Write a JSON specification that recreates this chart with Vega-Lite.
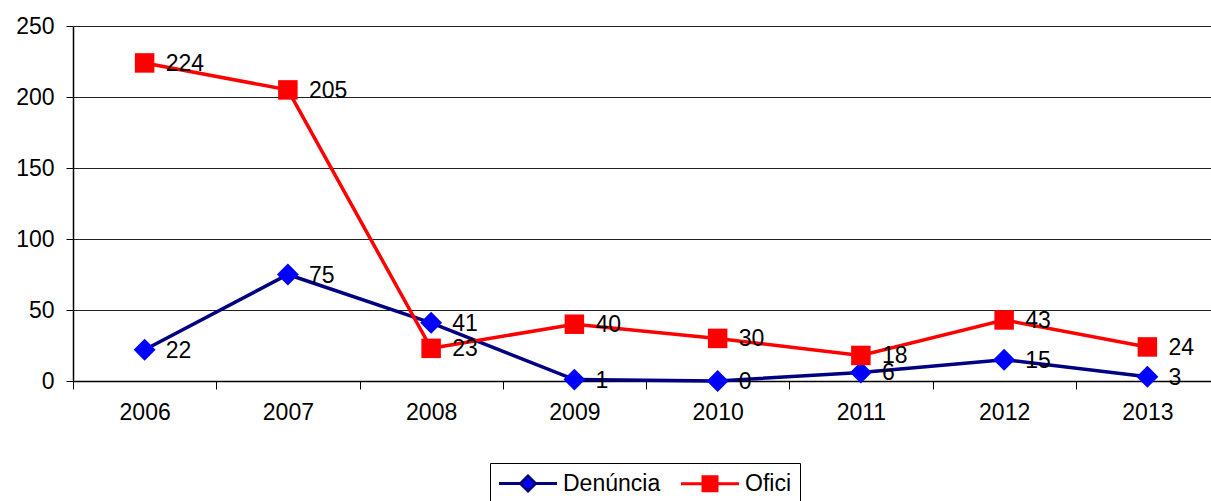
{
  "$schema": "https://vega.github.io/schema/vega-lite/v6.json",
  "width": 1146,
  "height": 355,
  "autosize": {"type": "none"},
  "padding": {"left": 73, "top": 26, "right": 0, "bottom": 120},
  "background": "white",
  "config": {
    "font": "Liberation Sans",
    "view": {"stroke": null},
    "axis": {"labelFont": "Liberation Sans", "labelFontSize": 23, "labelColor": "black", "domainColor": "black", "tickColor": "black"}
  },
  "data": {
    "values": [
      {"year": "2006", "series": "Denúncia", "value": 22},
      {"year": "2007", "series": "Denúncia", "value": 75},
      {"year": "2008", "series": "Denúncia", "value": 41},
      {"year": "2009", "series": "Denúncia", "value": 1},
      {"year": "2010", "series": "Denúncia", "value": 0},
      {"year": "2011", "series": "Denúncia", "value": 6},
      {"year": "2012", "series": "Denúncia", "value": 15},
      {"year": "2013", "series": "Denúncia", "value": 3},
      {"year": "2006", "series": "Ofici", "value": 224},
      {"year": "2007", "series": "Ofici", "value": 205},
      {"year": "2008", "series": "Ofici", "value": 23},
      {"year": "2009", "series": "Ofici", "value": 40},
      {"year": "2010", "series": "Ofici", "value": 30},
      {"year": "2011", "series": "Ofici", "value": 18},
      {"year": "2012", "series": "Ofici", "value": 43},
      {"year": "2013", "series": "Ofici", "value": 24}
    ]
  },
  "encoding": {
    "x": {
      "field": "year", "type": "nominal", "bandPosition": 0.5,
      "scale": {"type": "band", "paddingInner": 0, "paddingOuter": 0},
      "axis": {"title": null, "labelAngle": 0, "tickBand": "extent", "tickSize": 8, "labelPadding": 12, "domainWidth": 1.5, "grid": false}
    },
    "y": {
      "field": "value", "type": "quantitative",
      "scale": {"domain": [0, 250], "nice": false},
      "axis": {"title": null, "values": [0, 50, 100, 150, 200, 250], "tickSize": 7, "labelPadding": 12, "grid": true, "gridColor": "#222", "gridWidth": 1, "domainWidth": 1.5}
    }
  },
  "layer": [
    {
      "mark": {"type": "line", "strokeWidth": 3.5},
      "encoding": {
        "color": {
          "field": "series", "type": "nominal",
          "scale": {"domain": ["Denúncia", "Ofici"], "range": ["#000080", "#FF0000"]},
          "legend": {
            "title": null, "orient": "none", "direction": "horizontal",
            "legendX": 417, "legendY": 437,
            "labelFontSize": 23, "labelColor": "black", "labelFont": "Liberation Sans",
            "symbolSize": 400, "symbolStrokeWidth": 3, "columnPadding": 14, "labelOffset": 41,
            "strokeColor": "black", "fillColor": "white", "padding": 9, "cornerRadius": 0,
            "symbolOpacity": 1,
            "encode": {
              "symbols": {
                "update": {
                  "shape": {"signal": "datum.value === 'Denúncia' ? 'M-1.15,0H1.0L1.75,-0.75L2.5,0L1.75,0.75L1.0,0ZM2.5,0H4.65' : 'M-1.15,0H1.05V-0.7H2.45V0.7H1.05V0ZM2.45,0H4.65'"},
                  "fill": {"signal": "datum.value === 'Denúncia' ? '#0000FF' : '#FF0000'"},
                  "stroke": {"signal": "datum.value === 'Denúncia' ? '#000080' : '#FF0000'"},
                  "fillOpacity": {"value": 1}
                }
              }
            }
          }
        }
      }
    },
    {
      "transform": [{"filter": "datum.series === 'Denúncia'"}],
      "mark": {"type": "point", "shape": "diamond", "filled": true, "fill": "#0000FF", "size": 480, "opacity": 1}
    },
    {
      "transform": [{"filter": "datum.series === 'Ofici'"}],
      "mark": {"type": "point", "shape": "square", "filled": true, "fill": "#FF0000", "size": 380, "opacity": 1}
    },
    {
      "mark": {"type": "text", "align": "left", "baseline": "middle", "dx": 21, "dy": 1, "fontSize": 23, "font": "Liberation Sans", "color": "black"},
      "encoding": {"text": {"field": "value", "type": "quantitative"}}
    }
  ]
}
